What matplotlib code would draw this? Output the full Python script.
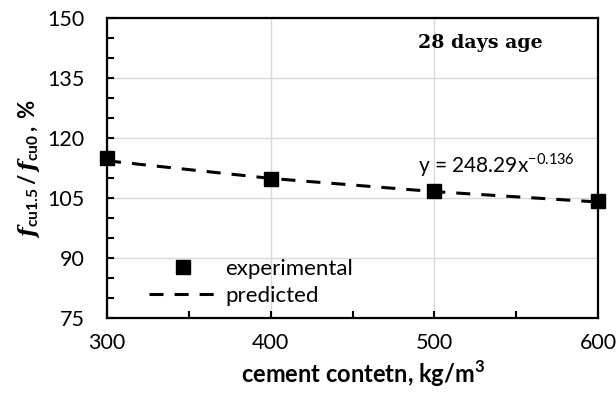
import matplotlib.pyplot as plt
from matplotlib.ticker import MultipleLocator

# values
cement = [300, 400, 500, 600]
experimental = [115.0, 109.8, 106.8, 104.3]
predicted = [114.3, 109.9, 106.6, 104.0]

plt.rcParams['font.family'] = ['Lato', 'DejaVu Sans']
plt.rcParams['mathtext.fontset'] = 'custom'
plt.rcParams['mathtext.rm'] = 'Lato'
plt.rcParams['mathtext.bf'] = 'Lato:bold'
plt.rcParams['mathtext.bfit'] = 'DejaVu Serif:italic:bold'

fig = plt.figure(figsize=(6.16, 3.94), dpi=100)
ax = fig.add_axes([107/616, 1 - 318/394, 491/616, 300/394])

ax.plot(cement, predicted, color='black', lw=2.2, ls=(0, (4.6, 3.6)),
        label='predicted', zorder=3)
ax.plot(cement, experimental, ls='none', marker='s', ms=10, color='black',
        label='experimental', zorder=4, clip_on=False)

ax.set_xlim(300, 600)
ax.set_ylim(75, 150)
ax.xaxis.set_major_locator(MultipleLocator(100))
ax.xaxis.set_minor_locator(MultipleLocator(50))
ax.yaxis.set_major_locator(MultipleLocator(15))
ax.yaxis.set_minor_locator(MultipleLocator(5))
ax.tick_params(which='both', direction='in', width=1.5, length=5, labelsize=15.5)
ax.tick_params(axis='y', which='major', pad=16)
ax.tick_params(axis='x', which='major', pad=11)
ax.grid(True, which='major', color='#d9d9d9', lw=1)
ax.set_axisbelow(True)
for s in ax.spines.values():
    s.set_linewidth(1.6)

ax.set_xlabel('cement contetn, kg/m$^\\mathregular{3}$', fontsize=17,
              fontweight='bold')
ax.xaxis.set_label_coords(0.521, -0.135)
ax.set_ylabel(r'$\boldsymbol{f}_{\mathbf{cu1.5}}\mathbf{\,/\,}\boldsymbol{f}_{\mathbf{cu0}}\mathbf{\,,\,\%}$',
              fontsize=16, labelpad=4)

ax.text(0.76, 0.917, '28 days age', transform=ax.transAxes, ha='center',
        va='center', family='DejaVu Serif', fontweight='bold', fontsize=13.7)
ax.text(0.634, 0.463, r'y = 248.29x$^{\mathregular{-0.136}}$',
        transform=ax.transAxes, fontsize=15, va='bottom')

h, l = ax.get_legend_handles_labels()
ax.legend(h[::-1], l[::-1], loc='lower left', bbox_to_anchor=(0.044, -0.025),
          frameon=False, fontsize=16, handlelength=3.1, handletextpad=0.36,
          labelspacing=0.3)

fig.savefig('out.png', dpi=100)
